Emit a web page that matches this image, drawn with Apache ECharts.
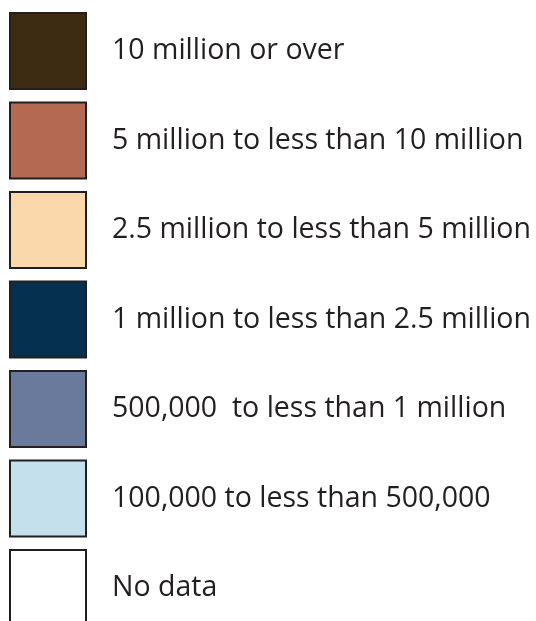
<!DOCTYPE html>
<html><head><meta charset="utf-8">
<script src="https://cdn.jsdelivr.net/npm/echarts@6/dist/echarts.min.js"></script>
<style>html,body{margin:0;padding:0;background:#fff}#c{width:536px;height:621px}</style>
</head><body><div id="c"></div>
<script>
const categories = ['10 million or over','5 million to less than 10 million','2.5 million to less than 5 million','1 million to less than 2.5 million','500,000  to less than 1 million','100,000 to less than 500,000','No data'];
const colors = ['#3d2c12','#b46a52','#fad8ab','#05304f','#6a7a9c','#c4e0ec','#ffffff'];
const values = [0,0,0,0,0,0,0];

const chart = echarts.init(document.getElementById('c'));
chart.setOption({
  animation:false,
  grid:{left:9,right:449,top:6.25,bottom:0},
  xAxis:{type:'value',min:-1,max:1,show:false},
  yAxis:{type:'value',min:-0.5,max:6.3687,inverse:true,show:false},
  series:[{
    type:'scatter',
    symbol:'rect',
    symbolSize:76,
    clip:false,
    data:values.map((v,i)=>({value:[v,i],name:categories[i],itemStyle:{color:colors[i]}})),
    itemStyle:{borderColor:'#231f20',borderWidth:2,opacity:1},
    label:{show:true,position:'right',distance:25,formatter:p=>p.name,color:'#231f20',fontFamily:'Open Sans',fontSize:28.5}
  }]
});
</script></body></html>
